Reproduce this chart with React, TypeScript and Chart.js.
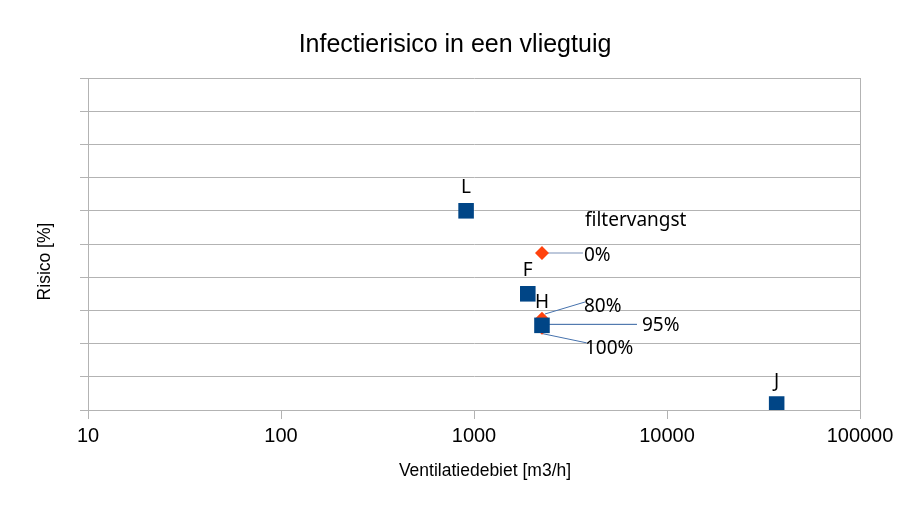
import React, { useEffect, useRef } from 'react';
import { Chart, registerables } from 'chart.js';

Chart.register(...registerables);

// ---- data ----
const chartTitle = 'Infectierisico in een vliegtuig';
const xAxisTitle = 'Ventilatiedebiet [m3/h]';
const yAxisTitle = 'Risico [%]';
const xTickValues = [10, 100, 1000, 10000, 100000];
const yMin = 0;
const yMax = 10;
const yStep = 1;

const planeLabels = ['L', 'F', 'H', 'J'];
const planeFlow = [910, 1900, 2250, 37000];
const planeRisk = [6.0, 3.5, 2.55, 0.18];

const filterTitle = 'filtervangst';
const filterLabels = ['0%', '80%', '95%', '100%'];
const filterFlow = [2250, 2250, 2250, 2250];
const filterRisk = [4.73, 2.75, 2.55, 2.48];

// ---- styles ----
const BLUE = '#004586';
const RED = '#ff420e';
const GRID = '#b3b3b3';
const AXIS_FONT = '"Liberation Sans", Arial, sans-serif';
const LABEL_FONT = '"Noto Sans", sans-serif';

// callout label placement relative to each filter point (pixels)
const calloutStyle = [
  { tx: 42, ty: 8.5, line: [0, 0, 41, 0], color: '#a7b6cf', width: 1.5 },
  { tx: 42, ty: -7, line: [3, -4.7, 43, -16.7], color: '#4672ad', width: 1 },
  { tx: 100, ty: 5.2, line: [0, -1, 95, -1], color: '#2f5f9f', width: 1 },
  { tx: 43, ty: 26.5, line: [-0.3, 5.8, 44.7, 15.2], color: '#4672ad', width: 1 },
];
const filterTitleOffset = { tx: 43, ty: -27 };
const pointLabelOffset = -17.5;

const annotatePlugin = {
  id: 'annotate',
  beforeDatasetsDraw(chart: any) {
    const ctx = chart.ctx;
    const meta = chart.getDatasetMeta(1);
    meta.data.forEach((el: any, i: number) => {
      const s = calloutStyle[i];
      if (!s) return;
      ctx.save();
      ctx.strokeStyle = s.color;
      ctx.lineWidth = s.width;
      ctx.beginPath();
      ctx.moveTo(el.x + s.line[0], el.y + s.line[1]);
      ctx.lineTo(el.x + s.line[2], el.y + s.line[3]);
      ctx.stroke();
      ctx.restore();
    });
  },
  afterDatasetsDraw(chart: any) {
    const ctx = chart.ctx;
    ctx.save();
    ctx.fillStyle = '#000';
    ctx.font = `19px ${LABEL_FONT}`;
    ctx.textBaseline = 'alphabetic';
    // plane labels
    ctx.textAlign = 'center';
    chart.getDatasetMeta(0).data.forEach((el: any, i: number) => {
      ctx.fillText(planeLabels[i], el.x, el.y + pointLabelOffset);
    });
    // filter callouts
    ctx.textAlign = 'left';
    const fmeta = chart.getDatasetMeta(1).data;
    fmeta.forEach((el: any, i: number) => {
      const s = calloutStyle[i];
      ctx.fillText(filterLabels[i], el.x + s.tx, el.y + s.ty);
    });
    if (fmeta.length) {
      ctx.fillText(filterTitle, fmeta[0].x + filterTitleOffset.tx, fmeta[0].y + filterTitleOffset.ty);
    }
    ctx.restore();
  },
  afterDraw(chart: any) {
    const ctx = chart.ctx;
    const area = chart.chartArea;
    ctx.save();
    ctx.fillStyle = '#000';
    ctx.textBaseline = 'alphabetic';
    ctx.textAlign = 'center';
    ctx.font = `25px ${AXIS_FONT}`;
    ctx.fillText(chartTitle, 455, 52);
    ctx.font = `17.5px ${AXIS_FONT}`;
    ctx.fillText(xAxisTitle, 485, 476);
    ctx.translate(50, 261.5);
    ctx.rotate(-Math.PI / 2);
    ctx.fillText(yAxisTitle, 0, 0);
    ctx.restore();
  },
};

export default function App() {
  const ref = useRef<HTMLCanvasElement | null>(null);

  useEffect(() => {
    if (!ref.current) return;
    const chart = new Chart(ref.current, {
      type: 'scatter',
      data: {
        datasets: [
          {
            label: 'Vliegtuig',
            data: planeFlow.map((x, i) => ({ x, y: planeRisk[i] })),
            pointStyle: 'rect',
            pointRadius: 11,
            pointHoverRadius: 11,
            backgroundColor: BLUE,
            borderColor: BLUE,
            borderWidth: 0,
          },
          {
            label: filterTitle,
            data: filterFlow.map((x, i) => ({ x, y: filterRisk[i] })),
            pointStyle: 'rectRot',
            pointRadius: 7,
            pointHoverRadius: 7,
            backgroundColor: RED,
            borderColor: RED,
            borderWidth: 0,
          },
        ],
      },
      options: {
        animation: false,
        responsive: false,
        devicePixelRatio: 1,
        layout: { padding: { left: 80, top: 78, right: 47, bottom: 0 } },
        plugins: {
          legend: { display: false },
          tooltip: { enabled: false },
          title: { display: false },
        },
        scales: {
          x: {
            type: 'logarithmic',
            min: 10,
            max: 100000,
            afterBuildTicks: (scale: any) => {
              scale.ticks = xTickValues.map((v) => ({ value: v }));
            },
            afterFit: (scale: any) => {
              scale.height = 100;
            },
            ticks: {
              autoSkip: false,
              maxRotation: 0,
              padding: 5,
              color: '#000',
              font: { family: AXIS_FONT, size: 20 },
              callback: (v: any) => String(v),
            },
            grid: {
              color: (c: any) => (c.tick && c.tick.value === 100000 ? GRID : 'rgba(0,0,0,0)'),
              tickColor: GRID,
              tickLength: 9,
              drawTicks: true,
            },
            border: { color: GRID },
          },
          y: {
            type: 'linear',
            min: yMin,
            max: yMax,
            afterFit: (scale: any) => {
              scale.width = 8;
            },
            ticks: { display: false, stepSize: yStep },
            grid: { color: GRID, tickColor: GRID, tickLength: 8, drawTicks: true },
            border: { color: GRID },
          },
        },
      },
      plugins: [annotatePlugin],
    });
    return () => chart.destroy();
  }, []);

  return (
    <div style={{ position: 'fixed', left: 0, top: 0, width: 907, height: 510, background: '#fff' }}>
      <canvas ref={ref} width={907} height={510} style={{ display: 'block' }} />
    </div>
  );
}
